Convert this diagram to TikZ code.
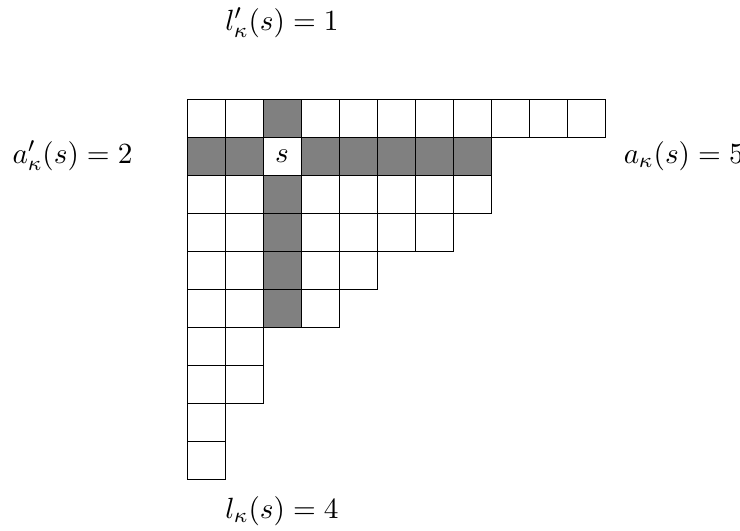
\documentclass[tikz,border=0pt,11pt]{standalone}
\usepackage{amsmath}
\usetikzlibrary{positioning}
\begin{document}
\begin{tikzpicture}[
  x=0.5cm, y=0.5cm,
  cell/.style={rectangle, draw=black, line width=0.3pt, minimum size=0.5cm, inner sep=0pt, outer sep=0pt},
  hookcell/.style={cell, fill=gray},
  lbl/.style={inner sep=0pt}
]
  \useasboundingbox (-4.921,2.605) rectangle (14.553,-11.368);
  % Young diagram, row by row
  \foreach \len [count=\r] in {11,8,8,7,5,4,2,2,1,1}
    \foreach \c in {1,...,\len}
      \node[cell] (c-\r-\c) at (\c-0.5,-\r+0.5) {};
  % Hook of s
  \foreach \r/\c in {1/3,3/3,4/3,5/3,6/3,2/1,2/2,2/4,2/5,2/6,2/7,2/8}
    \node[hookcell] (h-\r-\c) at (c-\r-\c) {};
  \node[cell] (s) at (c-2-3) {$s$};
  % Labels
  \node[lbl, above=0.8cm of c-1-3] (coleg) {$l'_\kappa(s) = 1$};
  \node[lbl, left=0.71cm of c-2-1] (coarm) {$a'_\kappa(s) = 2$};
  \node[lbl, right=1.74cm of c-2-8] (arm) {$a_\kappa(s) = 5$};
  \node[lbl] (leg) at (2.5,-10.84) {$l_\kappa(s) = 4$};
\end{tikzpicture}
\end{document}
